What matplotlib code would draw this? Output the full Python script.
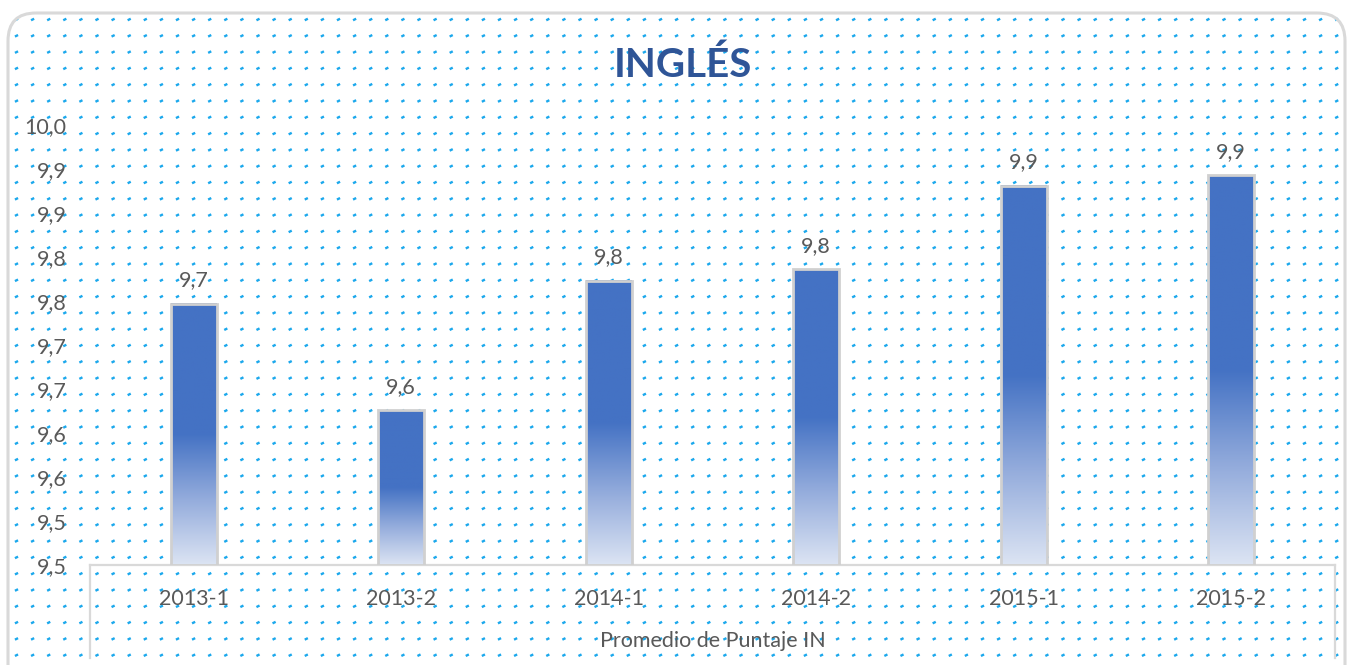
import numpy as np
import matplotlib
matplotlib.use("Agg")
import matplotlib.pyplot as plt
from matplotlib.patches import FancyBboxPatch
from matplotlib.colors import LinearSegmentedColormap
from matplotlib.ticker import FixedLocator, FuncFormatter

# data
periods = ["2013-1", "2013-2", "2014-1", "2014-2", "2015-1", "2015-2"]
scores = [9.797, 9.676, 9.823, 9.836, 9.931, 9.943]
y_ticks = [9.50, 9.55, 9.60, 9.65, 9.70, 9.75, 9.80, 9.85, 9.90, 9.95, 10.00]

W, H = 1352, 665
plt.rcParams["font.family"] = ["Lato", "DejaVu Sans"]
text_grey = "#595959"
fs = 15.5


def trunc_label(v):
    # labels in the source show the value cut to one decimal
    s = f"{np.floor(v * 10 + 1e-6) / 10:.1f}"
    return s.replace(".", ",")


fig = plt.figure(figsize=(W / 100, H / 100), dpi=100)
fig.patch.set_facecolor("white")

# background layer: dotted pattern and rounded frame
bg = fig.add_axes([0, 0, 1, 1], zorder=0)
bg.set_xlim(0, W)
bg.set_ylim(H, 0)
bg.axis("off")
gx, gy = np.meshgrid(np.arange(16.5, W, 16.1), np.arange(19.5, H, 16.3))
dash = [(-1, -0.5), (1, 0.5)]
bg.scatter(gx.ravel(), gy.ravel(), marker=dash, s=5, linewidths=1.7,
           facecolors="none", edgecolors="#1BA8EC", zorder=1)
frame = FancyBboxPatch((8, 13), 1337, 720, boxstyle="round,pad=0,rounding_size=28",
                       facecolor="none", edgecolor="#D9D9D9", linewidth=2.2, zorder=2)
bg.add_patch(frame)

# x axis "table" box
bg.plot([90, 1335], [565, 565], color="#D9D9D9", lw=1.6, zorder=2)
bg.plot([90, 90], [565, 658], color="#D9D9D9", lw=1.6, zorder=2)
bg.plot([1335, 1335], [565, 658], color="#D9D9D9", lw=1.6, zorder=2)

# main plot area
ax = fig.add_axes([90 / W, (H - 565) / H, 1245 / W, 440 / H], zorder=1)
ax.patch.set_alpha(0)
for sp in ax.spines.values():
    sp.set_visible(False)

x = np.arange(len(periods))
bar_w = 0.22
cmap = LinearSegmentedColormap.from_list(
    "fade", [(0.0, "#DCE4F3"), (0.25, "#94ACDC"), (0.5, "#4472C4"), (1.0, "#4472C4")])
grad = np.linspace(0, 1, 256).reshape(-1, 1)
ymin, ymax = 9.5, 10.0
for xi, v in zip(x, scores):
    ax.imshow(grad, extent=(xi - bar_w / 2, xi + bar_w / 2, ymin, v), origin="lower",
              cmap=cmap, aspect="auto", zorder=2)
    ax.add_patch(plt.Rectangle((xi - bar_w / 2, ymin), bar_w, v - ymin, facecolor="none",
                               edgecolor="#D0D0D0", linewidth=2, zorder=3))
    ax.text(xi, v + 0.015, trunc_label(v), ha="center", va="bottom",
            fontsize=fs, color=text_grey, zorder=4)

ax.set_xlim(-0.5, len(periods) - 0.5)
ax.set_ylim(ymin, ymax)
ax.yaxis.set_major_locator(FixedLocator(y_ticks))
ax.yaxis.set_major_formatter(FuncFormatter(lambda v, p: trunc_label(v)))
ax.set_xticks(x)
ax.set_xticklabels(periods)
ax.tick_params(axis="y", length=0, pad=17, labelsize=fs, labelcolor=text_grey)
ax.tick_params(axis="x", length=0, pad=17, labelsize=fs, labelcolor=text_grey)
ax.set_xlabel("Promedio de Puntaje IN", fontsize=fs, color=text_grey, labelpad=16)

fig.text(683 / W, 1 - 65 / H, "INGLÉS", ha="center", va="center", fontsize=29,
         fontweight="bold", color="#2F5597")

fig.savefig("out.png", dpi=100)
